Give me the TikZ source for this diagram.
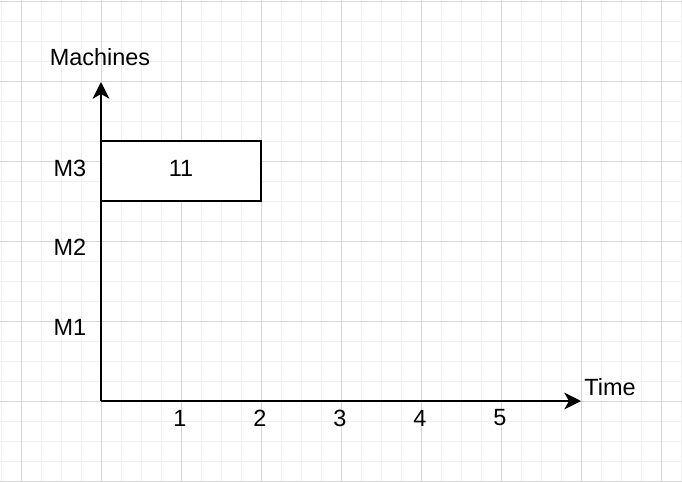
\documentclass[tikz,border=0pt]{standalone}
\usepackage{fontspec}
\setmainfont{Liberation Sans}
\usetikzlibrary{arrows.meta,positioning}
\definecolor{GridMinor}{RGB}{240,240,240}
\definecolor{GridMajor}{RGB}{214,214,214}
\tikzset{
  minorline/.style={GridMinor,line width=0.75pt},
  majorline/.style={GridMajor,line width=0.75pt},
  axis/.style={-{Stealth[length=12.5pt,width=12.5pt,inset=3.5pt]},line width=1.5pt,black},
  label/.style={inner sep=0pt,font=\fontsize{17.6}{20}\selectfont},
  jobbox/.style={draw=black,line width=1.5pt,fill=white,minimum width=120pt,
    minimum height=45pt,inner sep=0pt,outer sep=0pt,text height=12.6pt,
    text depth=4.5pt,font=\fontsize{17.6}{20}\selectfont}
}

\begin{document}
\begin{tikzpicture}[x=0.75pt,y=-0.75pt]
  \useasboundingbox (0,0) rectangle (682,482);
  \fill[white] (0,0) rectangle (682,482);
  % background grid
  \foreach \gx in {0,...,34} \draw[minorline] (1.5+20*\gx,0) -- (1.5+20*\gx,482);
  \foreach \gy in {0,...,24} \draw[minorline] (0,1.5+20*\gy) -- (682,1.5+20*\gy);
  \foreach \gx in {0,...,8} \draw[majorline] (21.5+80*\gx,0) -- (21.5+80*\gx,482);
  \foreach \gy in {0,...,6} \draw[majorline] (0,1.5+80*\gy) -- (682,1.5+80*\gy);

  % axes
  \coordinate (origin) at (101,401);
  \coordinate (ytip) at (101,82);
  \coordinate (xtip) at (581,401);
  \draw[axis] (origin) -- (ytip);
  \draw[axis] (origin) -- (xtip);
  \node[label] (machines) at (100,57) {Machines};
  \node[label] (time) at (610,387) {Time};

  % machine labels
  \node[label] (m3) at (70,168) {M3};
  \node[label] (m2) at (70,247) {M2};
  \node[label] (m1) at (70,327) {M1};

  % time ticks
  \foreach \t in {1,...,5}
    \node[label] (t\t) at (100+80*\t,418) {\t};

  % scheduled job
  \node[jobbox] (job11) at (181,171) {11};
\end{tikzpicture}
\end{document}
